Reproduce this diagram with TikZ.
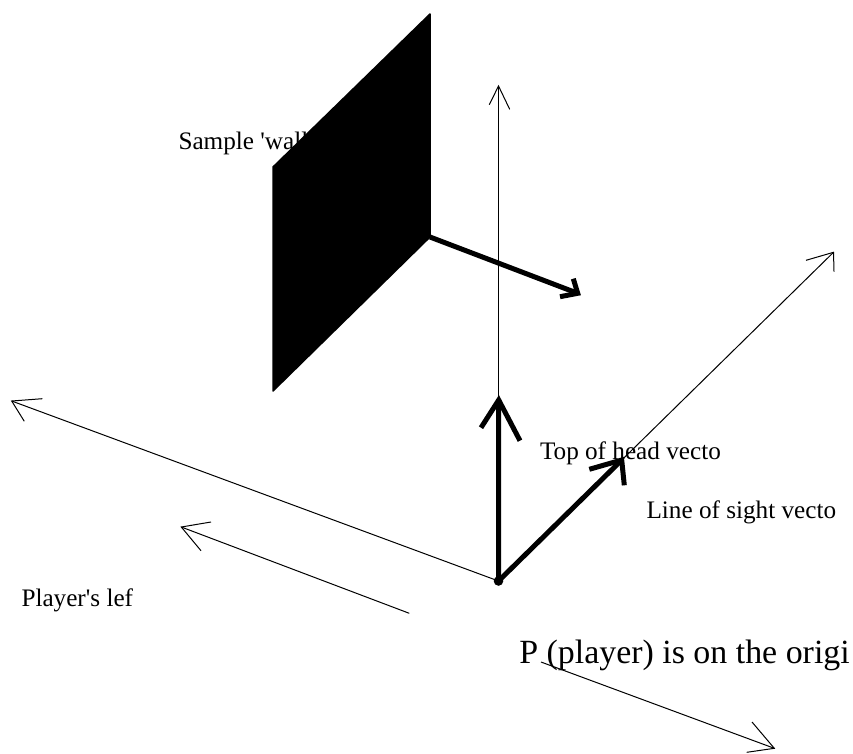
\documentclass[tikz,border=0pt]{standalone}
\usepackage{fontspec}
\newfontfamily\plainserif{Liberation Serif}
\tikzset{
  thinline/.style={draw=black,line width=1pt,line cap=butt,line join=miter},
  thickline/.style={draw=black,line width=5pt,line cap=butt,line join=miter},
  lbl/.style={anchor=base west,inner sep=0pt,outer sep=0pt,font=\plainserif\fontsize{25.2}{28}\selectfont},
  biglbl/.style={anchor=base west,inner sep=0pt,outer sep=0pt,font=\plainserif\fontsize{33.9}{36}\selectfont},
}
\begin{document}
\begin{tikzpicture}[x=1pt,y=-1pt]
\useasboundingbox (0,0) rectangle (853,753);
% labels (under the shapes, the wall hides part of its label)
\node[lbl] (walllbl) at (178.5,149) {Sample 'wall};
\node[lbl] (toplbl) at (540,459) {Top of head vecto};
\node[lbl] (loslbl) at (646.5,518.7) {Line of sight vecto};
\node[lbl] (leftlbl) at (21.5,606.7) {Player's lef};
\node[biglbl] (plbl) at (519.3,663.5) {P (player) is on the origi};
% wall
\coordinate (w1) at (430,14);
\coordinate (w2) at (430,237);
\coordinate (w3) at (273,391);
\coordinate (w4) at (273,167);
\fill[black,draw=black,line width=1.5pt,line join=round] (w1) -- (w2) -- (w3) -- (w4) -- cycle;
% points
\coordinate (O) at (498.5,581);
\coordinate (upT) at (498.5,86);
\coordinate (upA) at (489.3,104.7);
\coordinate (upB) at (509.7,109.3);
\coordinate (dgT) at (833.5,252.3);
\coordinate (dgA) at (806,260.3);
\coordinate (dgB) at (834,271.7);
\coordinate (ltT) at (11.7,401);
\coordinate (ltA) at (42.3,398.7);
\coordinate (ltB) at (24.3,421.3);
\coordinate (l2S) at (409.3,613.3);
\coordinate (l2T) at (181.3,527);
\coordinate (l2A) at (211,522);
\coordinate (l2B) at (201,550.7);
\coordinate (rtS) at (541,662);
\coordinate (rtT) at (774.3,748.3);
\coordinate (rtA) at (752,722);
\coordinate (rtB) at (746.7,752.3);
% thin axes
\draw[thinline] (O) -- (upT);
\draw[thinline] (upA) -- (upT) -- (upB);
\draw[thinline] (O) -- (dgT);
\draw[thinline] (dgA) -- (dgT) -- (dgB);
\draw[thinline] (O) -- (ltT);
\draw[thinline] (ltA) -- (ltT) -- (ltB);
\draw[thinline] (l2S) -- (l2T);
\draw[thinline] (l2A) -- (l2T) -- (l2B);
\draw[thinline] (rtS) -- (rtT);
\draw[thinline] (rtA) -- (rtT) -- (rtB);
% thick vectors
\coordinate (tuT) at (498.7,400);
\coordinate (tuA) at (481,427.7);
\coordinate (tuB) at (520,440.7);
\coordinate (tdT) at (621.7,460);
\coordinate (tdA) at (589.3,469.3);
\coordinate (tdB) at (624.3,485.3);
\coordinate (waT) at (577.7,293.3);
\coordinate (waA) at (573.3,278.7);
\coordinate (waB) at (560,296.7);
\draw[thickline] (O) -- (tuT);
\draw[thickline] (tuA) -- (tuT) -- (tuB);
\draw[thickline] (O) -- (tdT);
\draw[thickline] (tdA) -- (tdT) -- (tdB);
\draw[thickline] (w2) -- (waT);
\draw[thickline] (waA) -- (waT) -- (waB);
\fill[black] (O) circle (4.8);
\end{tikzpicture}
\end{document}
